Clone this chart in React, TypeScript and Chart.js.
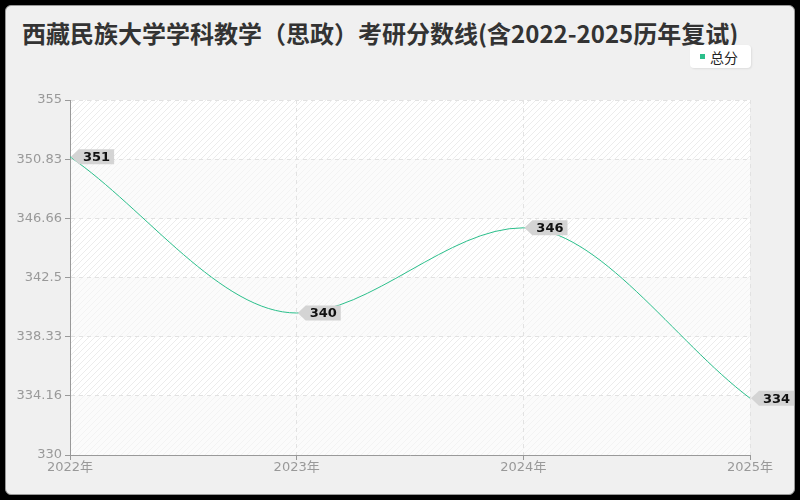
import React, { useEffect, useRef } from "react";
import { Chart, registerables } from "chart.js";

Chart.register(...registerables);

// chart data
const years = ["2022年", "2023年", "2024年", "2025年"];
const totalScores = [351, 340, 346, 334];
const yTickLabels = ["330", "334.16", "338.33", "342.5", "346.66", "350.83", "355"];
const yMin = 330;
const yMax = 355;

const LINE_COLOR = "#2bbf8b";
const FONT = "'Noto Sans CJK SC', 'Noto Sans', sans-serif";
const TICK_FONT = "'DejaVu Sans', 'Noto Sans CJK SC', sans-serif";

const makeHatch = (bg: string, stroke: string) => {
  const c = document.createElement("canvas");
  c.width = 6;
  c.height = 6;
  const g = c.getContext("2d")!;
  g.fillStyle = bg;
  g.fillRect(0, 0, 6, 6);
  g.strokeStyle = stroke;
  g.lineWidth = 1;
  g.beginPath();
  g.moveTo(0, 6);
  g.lineTo(6, 0);
  g.moveTo(-3, 3);
  g.lineTo(3, -3);
  g.moveTo(3, 9);
  g.lineTo(9, 3);
  g.stroke();
  return c;
};

// striped plot background
const bandsPlugin = {
  id: "bands",
  beforeDraw(chart: any) {
    const { ctx, chartArea, scales } = chart;
    const strong = ctx.createPattern(makeHatch("#ffffff", "#ececec"), "repeat");
    const faint = ctx.createPattern(makeHatch("#fbfbfb", "#f3f3f3"), "repeat");
    const ticks = scales.y.ticks;
    ctx.save();
    for (let i = 0; i < ticks.length - 1; i++) {
      const yBottom = scales.y.getPixelForValue(ticks[i].value);
      const yTop = scales.y.getPixelForValue(ticks[i + 1].value);
      // top band is the strong one
      const fromTop = ticks.length - 2 - i;
      ctx.fillStyle = fromTop % 2 === 0 ? strong : faint;
      ctx.fillRect(chartArea.left, yTop, chartArea.right - chartArea.left, yBottom - yTop);
    }
    ctx.restore();
  },
};

// grey tag labels next to points
const tagPlugin = {
  id: "tags",
  afterDatasetsDraw(chart: any) {
    const { ctx } = chart;
    const meta = chart.getDatasetMeta(0);
    ctx.save();
    ctx.font = `bold 13px ${TICK_FONT}`;
    meta.data.forEach((pt: any, i: number) => {
      const text = String(totalScores[i]);
      const w = ctx.measureText(text).width + 8;
      const h = 15;
      const x = pt.x + 1;
      const y = pt.y;
      ctx.fillStyle = "#d4d4d4";
      ctx.beginPath();
      ctx.moveTo(x, y);
      ctx.lineTo(x + 8, y - h / 2);
      ctx.lineTo(x + 8 + w, y - h / 2);
      ctx.lineTo(x + 8 + w, y + h / 2);
      ctx.lineTo(x + 8, y + h / 2);
      ctx.closePath();
      ctx.fill();
      ctx.fillStyle = "#111";
      ctx.textBaseline = "middle";
      ctx.textAlign = "left";
      ctx.fillText(text, x + 12, y + 1);
    });
    ctx.restore();
  },
};

const ScoreChart = () => {
  const chartRef = useRef<HTMLCanvasElement>(null);
  const chartInstance = useRef<Chart | null>(null);

  useEffect(() => {
    document.body.style.margin = "0";
    if (!chartRef.current) return;
    const ctx = chartRef.current.getContext("2d");
    if (!ctx) return;

    chartInstance.current = new Chart(ctx, {
      type: "line",
      data: {
        labels: years,
        datasets: [
          {
            label: "总分",
            data: totalScores,
            borderColor: LINE_COLOR,
            backgroundColor: LINE_COLOR,
            borderWidth: 1,
            pointRadius: 0,
            fill: false,
            cubicInterpolationMode: "monotone",
          },
        ],
      },
      options: {
        responsive: false,
        animation: false,
        layout: { padding: { top: 100, right: 50, bottom: 0, left: 0 } },
        plugins: {
          legend: { display: false },
          title: { display: false },
          tooltip: { enabled: false },
        },
        scales: {
          x: {
            offset: false,
            grid: {
              color: "#e2e2e2",
              tickColor: "#999",
              tickLength: 5,
              tickBorderDash: [],
            },
            // dash here styles the grid lines; the axis line stays solid
            border: { color: "#999", dash: [4, 4] },
            ticks: {
              color: "#999",
              font: { size: 13, family: TICK_FONT },
              padding: 0,
              maxRotation: 0,
            },
            afterFit: (scale: any) => {
              scale.height = 45;
            },
          },
          y: {
            min: yMin,
            max: yMax,
            afterBuildTicks: (scale: any) => {
              const step = (yMax - yMin) / (yTickLabels.length - 1);
              scale.ticks = yTickLabels.map((_, i) => ({ value: yMin + i * step }));
            },
            grid: {
              color: "#e2e2e2",
              tickColor: "#999",
              tickLength: 5,
              tickBorderDash: [],
            },
            border: { color: "#999", dash: [4, 4] },
            ticks: {
              color: "#999",
              font: { size: 13, family: TICK_FONT },
              padding: 3,
              callback: (_v: any, i: number) => yTickLabels[i],
            },
            afterFit: (scale: any) => {
              scale.width = 70;
            },
          },
        },
      },
      plugins: [bandsPlugin, tagPlugin],
    } as any);

    return () => {
      chartInstance.current?.destroy();
      chartInstance.current = null;
    };
  }, []);

  return (
    <div style={{ width: 800, height: 500, background: "#000", position: "relative" }}>
      <div
        style={{
          position: "absolute",
          left: 5,
          top: 5,
          width: 788,
          height: 488,
          background: "#f0f0f0",
          border: "1px solid #999",
          borderRadius: 6,
        }}
      />
      <div
        style={{
          position: "absolute",
          left: 22,
          top: 17,
          fontFamily: FONT,
          fontWeight: "bold",
          fontSize: 24,
          color: "#333",
          lineHeight: "32px",
          whiteSpace: "nowrap",
        }}
      >
        西藏民族大学学科教学（思政）考研分数线(含2022-2025历年复试)
      </div>
      <div
        style={{
          position: "absolute",
          left: 690,
          top: 45,
          width: 61,
          height: 23,
          background: "#fff",
          borderRadius: 4,
          boxShadow: "1px 1px 2px rgba(0,0,0,0.08)",
          display: "flex",
          alignItems: "center",
          fontFamily: FONT,
          fontSize: 14,
          color: "#222",
        }}
      >
        <span
          style={{
            display: "inline-block",
            width: 5,
            height: 5,
            background: LINE_COLOR,
            marginLeft: 10,
            marginRight: 5,
          }}
        />
        总分
      </div>
      <canvas
        ref={chartRef}
        width={800}
        height={500}
        style={{ position: "absolute", left: 0, top: 0 }}
      ></canvas>
    </div>
  );
};

export default function App() {
  return <ScoreChart />;
}
